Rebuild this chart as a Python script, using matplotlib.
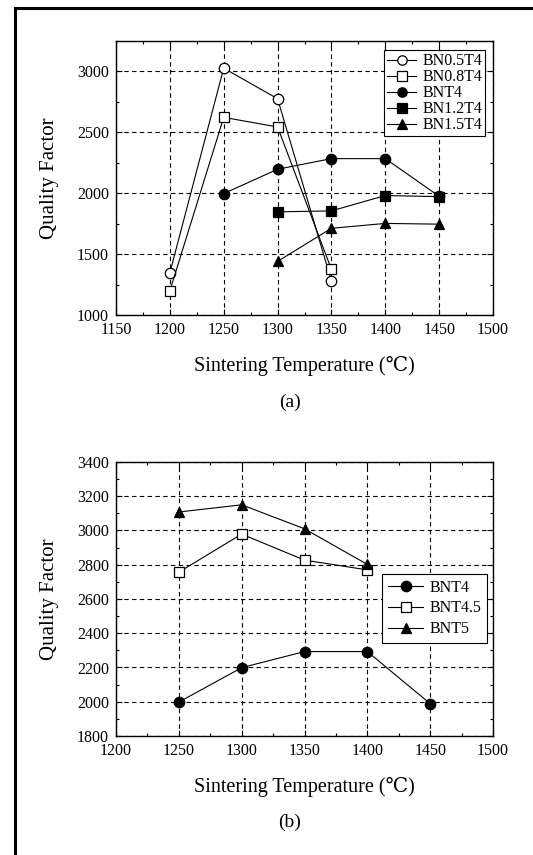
import matplotlib
matplotlib.use('Agg')
import matplotlib.pyplot as plt
from matplotlib.lines import Line2D
from matplotlib.ticker import MultipleLocator

plt.rcParams['font.family'] = ['Liberation Serif', 'DejaVu Serif']

# (a) quality factor vs sintering temperature, BN(x)T4 series
temp_a = {
    'BN0.5T4': [1200, 1250, 1300, 1350],
    'BN0.8T4': [1200, 1250, 1300, 1350],
    'BNT4': [1250, 1300, 1350, 1400, 1450],
    'BN1.2T4': [1300, 1350, 1400, 1450],
    'BN1.5T4': [1300, 1350, 1400, 1450],
}
q_bn05t4 = [1347, 3027, 2776, 1280]
q_bn08t4 = [1199, 2623, 2544, 1374]
q_bnt4_a = [1997, 2197, 2284, 2284, 1975]
q_bn12t4 = [1847, 1855, 1981, 1972]
q_bn15t4 = [1440, 1712, 1752, 1746]

# (b) BNT4 / BNT4.5 / BNT5
temp_bnt4 = [1250, 1300, 1350, 1400, 1450]
q_bnt4_b = [1998, 2199, 2293, 2293, 1989]
temp_bnt45 = [1250, 1300, 1350, 1400]
q_bnt45 = [2757, 2979, 2827, 2770]
temp_bnt5 = [1250, 1300, 1350, 1400]
q_bnt5 = [3108, 3150, 3010, 2802]

fig = plt.figure(figsize=(5.33, 8.55), dpi=100)

# frame lines of the scanned page
fig.add_artist(Line2D([15 / 533, 15 / 533], [0, 1 - 8 / 855], color='black', lw=2.2))
fig.add_artist(Line2D([15 / 533, 1], [1 - 8 / 855, 1 - 8 / 855], color='black', lw=2.2))

ax1 = fig.add_axes([116 / 533, 540 / 855, 377 / 533, 274 / 855])
ax2 = fig.add_axes([116 / 533, 119 / 855, 377 / 533, 274 / 855])


def style_axes(ax):
    ax.grid(True, which='major', color='black', linestyle=(0, (4, 3)), lw=0.8)
    ax.tick_params(which='both', direction='in', top=True, right=True, labelsize=11.5)
    ax.tick_params(which='major', length=4, width=0.8, pad=5)
    ax.tick_params(which='minor', length=2.5, width=0.8)
    for s in ax.spines.values():
        s.set_linewidth(1.0)
    ax.set_axisbelow(True)


mk = dict(color='black', lw=0.8, markersize=7.5, markeredgewidth=0.9)

ax1.plot(temp_a['BN0.5T4'], q_bn05t4, marker='o', markerfacecolor='white', label='BN0.5T4', **mk)
ax1.plot(temp_a['BN0.8T4'], q_bn08t4, marker='s', markerfacecolor='white', label='BN0.8T4', **mk)
ax1.plot(temp_a['BNT4'], q_bnt4_a, marker='o', label='BNT4', **mk)
ax1.plot(temp_a['BN1.2T4'], q_bn12t4, marker='s', label='BN1.2T4', **mk)
ax1.plot(temp_a['BN1.5T4'], q_bn15t4, marker='^', label='BN1.5T4', **mk)

ax1.set_xlim(1150, 1500)
ax1.set_ylim(1000, 3250)
ax1.xaxis.set_major_locator(MultipleLocator(50))
ax1.xaxis.set_minor_locator(MultipleLocator(25))
ax1.yaxis.set_major_locator(MultipleLocator(500))
ax1.yaxis.set_minor_locator(MultipleLocator(250))
style_axes(ax1)

leg1 = ax1.legend(loc='upper right', bbox_to_anchor=(0.98, 0.967), borderaxespad=0,
                  fontsize=11.5, handlelength=1.8, handletextpad=0.4, labelspacing=0.0,
                  borderpad=0.2, fancybox=False, framealpha=1, edgecolor='black',
                  markerscale=0.9, handleheight=0.6)
leg1.get_frame().set_linewidth(0.8)

ax2.plot(temp_bnt4, q_bnt4_b, marker='o', label='BNT4', **mk)
ax2.plot(temp_bnt45, q_bnt45, marker='s', markerfacecolor='white', label='BNT4.5', **mk)
ax2.plot(temp_bnt5, q_bnt5, marker='^', label='BNT5', **mk)

ax2.set_xlim(1200, 1500)
ax2.set_ylim(1800, 3400)
ax2.xaxis.set_major_locator(MultipleLocator(50))
ax2.xaxis.set_minor_locator(MultipleLocator(25))
ax2.yaxis.set_major_locator(MultipleLocator(200))
ax2.yaxis.set_minor_locator(MultipleLocator(100))
style_axes(ax2)

leg2 = ax2.legend(loc='upper right', bbox_to_anchor=(0.984, 0.591), borderaxespad=0,
                  fontsize=11.5, handlelength=2.2, handletextpad=0.4, labelspacing=0.3,
                  borderpad=0.35, fancybox=False, framealpha=1, edgecolor='black')
leg2.get_frame().set_linewidth(0.8)

for ax in (ax1, ax2):
    ax.set_xlabel('Sintering Temperature (℃)', fontsize=14.5)
    ax.set_ylabel('Quality Factor', fontsize=15)
    ax.xaxis.set_label_coords(0.5, -0.15)
    ax.yaxis.set_label_coords(-0.15, 0.5)

fig.text(290 / 533, 1 - 402 / 855, '(a)', ha='center', va='center', fontsize=14)
fig.text(290 / 533, 1 - 822 / 855, '(b)', ha='center', va='center', fontsize=14)

fig.savefig('out.png', dpi=100)
